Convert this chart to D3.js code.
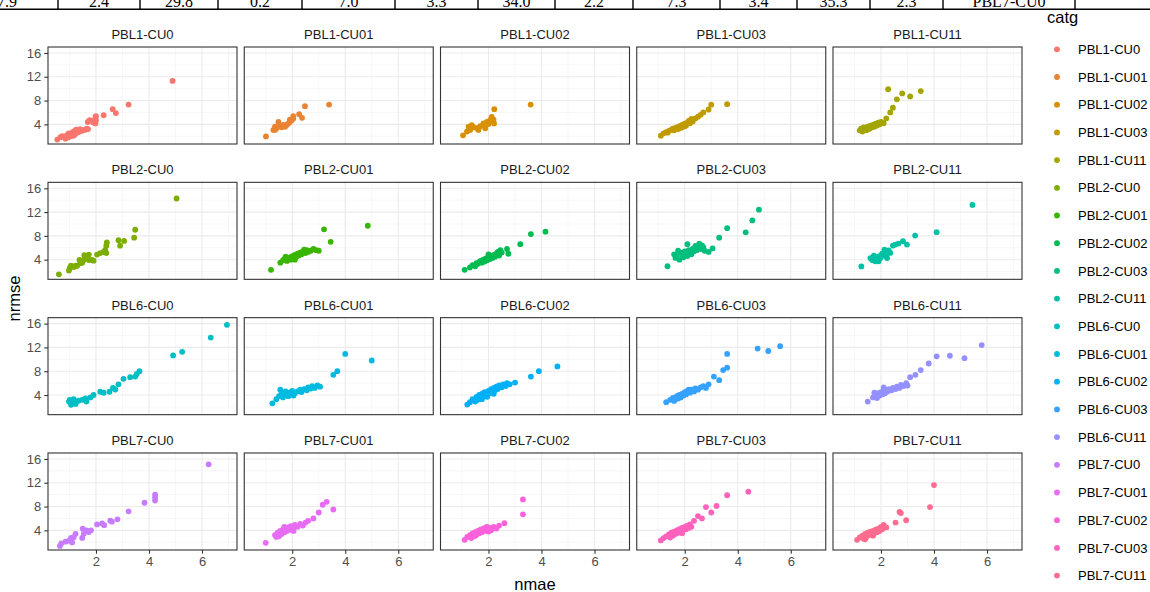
<!DOCTYPE html>
<html>
<head>
<meta charset="utf-8">
<script src="https://cdn.jsdelivr.net/npm/d3@7"></script>
<style>
  body { margin: 0; background: #fff; overflow: hidden; }
  svg { display: block; font-family: "Liberation Sans", Arial, sans-serif; }
</style>
</head>
<body>
<div class="graph-section"></div>
<script>
// cut-off table row above the chart
var tableCells = ["7.9", "2.4", "29.8", "0.2", "7.0", "3.3", "34.0", "2.2", "7.3", "3.4", "35.3", "2.3", "PBL7-CU0", ""];

var catg = ["PBL1-CU0", "PBL1-CU01", "PBL1-CU02", "PBL1-CU03", "PBL1-CU11",
            "PBL2-CU0", "PBL2-CU01", "PBL2-CU02", "PBL2-CU03", "PBL2-CU11",
            "PBL6-CU0", "PBL6-CU01", "PBL6-CU02", "PBL6-CU03", "PBL6-CU11",
            "PBL7-CU0", "PBL7-CU01", "PBL7-CU02", "PBL7-CU03", "PBL7-CU11"];

var xTicks = [2, 4, 6];
var yTicks = [4, 8, 12, 16];

// [nmae, nrmse]
var pbl1Cu0 = [[0.54,1.45],[0.66,1.85],[0.72,2.0],[0.79,1.98],[0.85,1.6],[0.9,2.1],[0.95,1.8],[0.98,2.5],[1.05,2.0],[1.1,2.6],
  [1.16,2.8],[1.2,2.3],[1.25,2.5],[1.29,3.07],[1.35,2.7],[1.4,3.2],[1.45,2.9],[1.54,3.07],[1.6,3.1],[1.7,3.2],
  [1.69,4.4],[1.76,4.7],[1.85,4.6],[1.9,4.3],[1.98,5.25],[2.0,4.7],[1.98,4.16],[2.0,5.4],[2.29,5.53],[2.63,6.56],
  [2.75,5.9],[3.23,7.33],[4.89,11.3],[1.15,2.1],[0.95,2.4],[1.25,3.1],[1.65,3.3]];

var pbl1Cu01 = [[1.01,1.98],[1.29,3.07],[1.35,3.6],[1.35,3.07],[1.41,3.35],[1.48,4.4],[1.54,3.7],[1.6,3.5],[1.66,3.9],[1.73,3.6],
  [1.79,3.9],[1.85,4.16],[1.91,4.4],[1.91,4.8],[1.98,4.7],[2.04,5.0],[2.04,5.4],[2.26,5.7],[2.37,5.1],[2.48,7.05],[3.39,7.33]];

var pbl1Cu02 = [[1.04,2.15],[1.19,2.8],[1.25,3.6],[1.31,3.07],[1.37,3.85],[1.44,3.5],[1.56,3.35],[1.62,3.07],[1.69,3.7],[1.81,4.16],
  [1.88,3.35],[1.94,4.4],[2.0,4.05],[2.06,4.7],[2.12,5.25],[2.19,4.8],[2.21,4.16],[2.22,6.56],[3.59,7.33]];

var pbl1Cu03 = [[1.1,2.1],[1.2,2.5],[1.3,2.7],[1.35,2.6],[1.4,2.9],[1.5,3.1],[1.55,3.3],[1.6,3.0],[1.65,3.4],[1.7,3.5],
  [1.75,3.2],[1.8,3.7],[1.85,3.4],[1.9,3.9],[1.95,3.6],[2.0,4.1],[2.0,3.7],[2.05,3.8],[2.1,4.3],[2.15,4.6],
  [2.2,4.2],[2.25,4.9],[2.3,4.5],[2.4,5.0],[2.5,5.3],[2.6,5.6],[2.7,6.0],[2.9,6.5],[3.0,7.3],[3.6,7.4]];

var pbl1Cu11 = [[1.2,3.0],[1.25,3.3],[1.3,2.8],[1.3,3.3],[1.35,3.5],[1.4,3.1],[1.45,3.4],[1.45,3.0],[1.5,3.6],[1.55,3.2],
  [1.6,3.8],[1.6,3.4],[1.65,3.5],[1.7,3.9],[1.75,3.6],[1.8,4.1],[1.85,3.8],[1.9,4.3],[1.95,4.0],[2.0,4.4],
  [2.1,4.2],[2.2,5.0],[2.35,6.0],[2.45,6.8],[2.27,9.9],[2.6,8.2],[2.8,9.2],[3.1,8.7],[3.5,9.6]];

var pbl2Cu0 = [[0.6,1.54],[0.98,2.18],[1.01,2.6],[1.06,2.98],[1.16,2.77],[1.23,2.98],[1.29,2.98],[1.38,3.95],[1.41,3.41],[1.48,3.5],
  [1.54,3.95],[1.56,4.75],[1.64,4.37],[1.73,4.86],[1.73,3.95],[1.85,3.95],[1.91,3.84],[2.04,4.86],[2.16,5.12],[2.29,5.29],
  [2.35,5.66],[2.39,6.36],[2.41,6.9],[2.39,5.12],[2.85,7.27],[2.91,6.36],[3.06,7.16],[3.44,7.7],[3.48,9.03],[5.04,14.28]];

var pbl2Cu01 = [[1.2,2.3],[1.55,3.5],[1.65,3.9],[1.7,4.1],[1.75,4.5],[1.8,3.8],[1.85,4.2],[1.9,4.4],[1.95,4.0],[2.0,4.6],
  [2.05,4.3],[2.1,4.8],[2.1,4.0],[2.15,4.5],[2.2,5.0],[2.25,4.7],[2.3,5.2],[2.35,4.9],[2.4,5.4],[2.45,5.7],
  [2.5,5.1],[2.55,5.6],[2.6,5.3],[2.7,5.5],[2.8,5.8],[2.9,5.6],[3.0,5.5],[3.2,9.1],[3.45,7.0],[4.85,9.7]];

var pbl2Cu02 = [[1.1,2.3],[1.3,2.7],[1.4,3.1],[1.5,2.9],[1.55,3.4],[1.6,3.3],[1.65,3.6],[1.7,3.8],[1.75,3.5],[1.8,4.0],
  [1.85,3.7],[1.9,4.2],[1.95,3.9],[2.0,4.4],[2.0,4.9],[2.05,4.1],[2.1,4.6],[2.15,4.3],[2.2,4.8],[2.25,4.5],
  [2.3,5.0],[2.35,5.3],[2.4,4.7],[2.45,5.6],[2.5,5.2],[2.7,5.8],[2.75,5.0],[3.2,6.6],[3.6,8.3],[4.15,8.7]];

var pbl2Cu03 = [[1.35,2.9],[1.6,4.9],[1.65,4.3],[1.7,4.6],[1.75,5.5],[1.8,4.0],[1.85,5.2],[1.9,4.8],[1.95,4.4],[2.0,5.4],
  [2.05,5.0],[2.1,4.6],[2.1,6.6],[2.15,5.6],[2.2,5.2],[2.25,4.9],[2.3,5.8],[2.35,5.4],[2.4,6.3],[2.45,5.6],
  [2.5,6.0],[2.55,6.7],[2.6,5.8],[2.65,6.4],[2.7,6.1],[2.75,5.5],[2.9,5.3],[3.05,5.9],[3.3,7.7],[3.6,9.3],
  [4.3,8.6],[4.55,10.6],[4.8,12.4]];

var pbl2Cu11 = [[1.26,2.87],[1.6,4.28],[1.66,4.0],[1.7,3.9],[1.73,4.68],[1.79,3.72],[1.85,4.11],[1.91,4.56],[1.91,3.72],[1.98,4.28],
  [2.04,5.0],[2.1,4.68],[2.13,5.69],[2.16,5.24],[2.2,4.68],[2.23,4.28],[2.29,5.58],[2.35,5.13],[2.45,6.37],[2.54,6.54],
  [2.66,6.7],[2.83,7.1],[2.98,6.54],[3.29,8.06],[4.1,8.62],[5.45,13.2]];

var pbl6Cu0 = [[0.98,2.9],[1.01,3.2],[1.06,2.36],[1.1,2.75],[1.16,3.3],[1.23,2.5],[1.29,2.9],[1.35,3.07],[1.48,3.2],[1.6,3.45],
  [1.64,2.9],[1.79,3.6],[1.91,4.0],[2.16,4.55],[2.29,4.38],[2.51,4.55],[2.64,5.2],[2.73,4.93],[2.85,5.8],[3.04,6.73],
  [3.29,7.0],[3.48,7.1],[3.54,7.55],[3.64,8.0],[4.91,10.66],[5.25,11.26],[6.33,13.66],[6.94,15.8]];

var pbl6Cu01 = [[1.25,2.6],[1.4,3.3],[1.5,3.8],[1.55,4.9],[1.6,4.3],[1.65,3.6],[1.7,4.0],[1.75,4.6],[1.8,4.2],[1.85,3.8],
  [1.9,4.4],[1.95,4.1],[2.0,4.7],[2.05,3.9],[2.1,4.3],[2.2,4.6],[2.3,4.9],[2.35,4.5],[2.45,5.0],[2.55,4.8],
  [2.6,5.3],[2.7,5.1],[2.75,5.5],[2.85,5.2],[2.95,5.6],[3.05,5.4],[3.55,7.4],[3.7,8.0],[4.0,10.9],[5.0,9.8]];

var pbl6Cu02 = [[1.2,2.4],[1.3,2.8],[1.4,3.3],[1.5,2.9],[1.55,3.7],[1.6,3.2],[1.65,4.0],[1.7,3.5],[1.75,4.2],[1.75,3.3],
  [1.8,3.8],[1.85,4.5],[1.9,4.1],[1.95,3.7],[2.0,4.7],[2.05,4.3],[2.1,5.0],[2.15,4.6],[2.2,5.2],[2.2,4.2],
  [2.25,4.8],[2.3,5.4],[2.35,5.0],[2.4,5.6],[2.5,5.3],[2.55,5.8],[2.65,5.5],[2.7,6.0],[2.8,5.8],[3.0,6.1],
  [3.6,7.1],[3.9,8.0],[4.6,8.8]];

var pbl6Cu03 = [[1.3,2.8],[1.45,3.2],[1.55,3.5],[1.6,3.0],[1.65,3.3],[1.7,3.8],[1.75,3.4],[1.8,4.0],[1.85,3.6],[1.9,4.2],
  [1.95,3.9],[2.0,4.5],[2.05,4.1],[2.1,4.7],[2.15,4.9],[2.2,4.4],[2.25,4.9],[2.35,4.6],[2.4,5.1],[2.5,4.9],
  [2.6,5.3],[2.7,5.5],[2.8,5.2],[2.9,5.8],[3.1,7.1],[3.3,6.5],[3.45,8.2],[3.6,8.6],[3.6,10.9],[4.75,11.8],
  [5.15,11.4],[5.6,12.2]];

var pbl6Cu11 = [[1.5,2.9],[1.7,3.6],[1.75,4.4],[1.8,4.0],[1.85,3.5],[1.9,4.3],[1.95,3.9],[2.0,4.5],[2.05,4.1],[2.1,4.7],
  [2.1,5.3],[2.15,4.3],[2.2,4.9],[2.25,4.6],[2.3,5.0],[2.4,4.8],[2.45,5.2],[2.55,5.0],[2.6,5.4],[2.7,5.2],
  [2.75,5.7],[2.85,5.5],[2.95,6.0],[3.0,5.6],[3.1,7.0],[3.3,7.4],[3.5,8.2],[3.8,9.3],[4.1,10.5],[4.6,10.6],
  [5.15,10.2],[5.8,12.4]];

var pbl7Cu0 = [[0.64,1.39],[0.69,1.8],[0.85,2.09],[0.98,2.26],[1.06,2.72],[1.1,1.97],[1.16,2.84],[1.23,3.42],[1.48,2.72],[1.5,4.29],
  [1.54,3.42],[1.64,4.0],[1.73,3.71],[1.81,4.0],[2.04,4.99],[2.23,5.16],[2.31,4.87],[2.54,5.62],[2.6,5.45],[2.81,5.86],
  [3.23,7.19],[3.83,8.64],[4.23,10.0],[4.23,9.5],[4.23,9.0],[6.25,15.1]];

var pbl7Cu01 = [[1.0,1.9],[1.35,3.2],[1.4,2.9],[1.45,3.6],[1.5,3.0],[1.55,3.9],[1.6,3.4],[1.65,4.1],[1.7,3.7],[1.7,4.6],
  [1.75,4.3],[1.8,3.9],[1.85,4.5],[1.9,4.1],[1.95,4.7],[2.0,4.3],[2.05,3.9],[2.1,4.9],[2.2,4.6],[2.3,5.1],
  [2.4,4.8],[2.5,5.3],[2.6,5.6],[2.8,6.0],[3.0,7.0],[3.15,8.3],[3.3,8.8],[3.55,7.5]];

var pbl7Cu02 = [[1.1,2.4],[1.2,2.9],[1.3,3.2],[1.35,2.7],[1.4,3.5],[1.45,3.0],[1.5,3.7],[1.5,3.1],[1.55,3.3],[1.6,3.9],
  [1.65,3.5],[1.7,4.1],[1.75,3.7],[1.8,4.3],[1.85,3.9],[1.9,4.5],[1.95,4.1],[1.95,4.6],[2.0,3.8],[2.05,4.4],
  [2.1,4.0],[2.2,4.6],[2.3,4.3],[2.4,4.8],[2.6,5.2],[3.3,6.7],[3.3,9.2]];

var pbl7Cu03 = [[1.1,2.3],[1.2,2.7],[1.3,3.0],[1.4,3.3],[1.45,2.8],[1.5,3.6],[1.55,3.1],[1.6,3.8],[1.65,3.4],[1.7,4.0],
  [1.75,3.6],[1.8,4.2],[1.85,3.8],[1.9,4.4],[1.9,3.5],[1.95,4.0],[2.0,4.6],[2.05,4.2],[2.1,4.8],[2.15,4.4],
  [2.2,5.0],[2.25,4.6],[2.35,5.6],[2.5,6.4],[2.65,6.0],[2.8,7.9],[3.0,7.0],[3.2,8.1],[3.6,9.9],[4.4,10.5]];

var pbl7Cu11 = [[1.1,2.4],[1.2,2.8],[1.3,3.1],[1.35,2.6],[1.4,3.4],[1.4,2.5],[1.45,2.9],[1.5,3.6],[1.55,3.2],[1.6,3.8],
  [1.65,3.4],[1.7,3.9],[1.7,3.1],[1.75,3.5],[1.8,4.1],[1.85,3.7],[1.9,4.3],[1.95,3.9],[2.0,4.6],[2.05,4.2],
  [2.1,4.9],[2.2,4.5],[2.55,5.3],[2.7,7.1],[2.75,6.9],[2.95,5.7],[3.85,7.9],[4.0,11.6]];

var series = [pbl1Cu0, pbl1Cu01, pbl1Cu02, pbl1Cu03, pbl1Cu11,
              pbl2Cu0, pbl2Cu01, pbl2Cu02, pbl2Cu03, pbl2Cu11,
              pbl6Cu0, pbl6Cu01, pbl6Cu02, pbl6Cu03, pbl6Cu11,
              pbl7Cu0, pbl7Cu01, pbl7Cu02, pbl7Cu03, pbl7Cu11];

// ggplot default hue palette for 20 levels
var hues = ["#F8766D", "#EA8331", "#D89000", "#C09B00", "#A3A500", "#7CAE00", "#39B600", "#00BB4E", "#00BF7D", "#00C1A3",
            "#00BFC4", "#00BAE0", "#00B0F6", "#35A2FF", "#9590FF", "#C77CFF", "#E76BF3", "#FA62DB", "#FF62BC", "#FF6C90"];

var W = 1150, H = 592;
var panelW = 189, panelH = 97,
    left0 = 48, top0 = 47,
    colStep = 196.25, rowStep = 135.33;

var color = d3.scaleOrdinal().domain(catg).range(hues);

var x = d3.scaleLinear().domain([0.19, 7.32]).range([0, panelW]);
var y = d3.scaleLinear().domain([0.7, 17.0]).range([panelH, 0]);

var svg = d3.select(".graph-section").append("svg")
    .attr("width", W)
    .attr("height", H);

// table fragment at the very top
var tableEdges = [-44, 58, 140, 218, 302, 395, 478, 555, 633, 720, 797, 870, 943, 1075, 1150];
var table = svg.append("g").attr("class", "table-row");

table.append("line")
    .attr("x1", 0).attr("x2", W)
    .attr("y1", 9.3).attr("y2", 9.3)
    .attr("stroke", "#000")
    .attr("stroke-width", 1.4);

table.selectAll(".sep")
    .data(tableEdges.slice(1, -1))
  .enter().append("line")
    .attr("class", "sep")
    .attr("x1", function(d) { return d; })
    .attr("x2", function(d) { return d; })
    .attr("y1", 0).attr("y2", 9.3)
    .attr("stroke", "#000")
    .attr("stroke-width", 1.4);

table.selectAll(".cell")
    .data(tableCells)
  .enter().append("text")
    .attr("class", "cell")
    .attr("x", function(d, i) { return (tableEdges[i] + tableEdges[i + 1]) / 2; })
    .attr("y", 6.8)
    .attr("text-anchor", "middle")
    .style("font-family", "'Liberation Serif', 'Times New Roman', serif")
    .style("font-size", "16px")
    .attr("fill", "#000")
    .text(function(d) { return d; });

// facets
var xMinor = [1, 3, 5, 7], yMinor = [2, 6, 10, 14];

catg.forEach(function(name, i) {
  var col = i % 5, row = Math.floor(i / 5);
  var px = left0 + col * colStep, py = top0 + row * rowStep;

  var g = svg.append("g")
      .attr("class", "panel")
      .attr("transform", "translate(" + px + "," + py + ")");

  g.append("rect")
      .attr("width", panelW)
      .attr("height", panelH)
      .attr("fill", "#fff");

  g.selectAll(".minor-x")
      .data(xMinor)
    .enter().append("line")
      .attr("x1", function(d) { return x(d); })
      .attr("x2", function(d) { return x(d); })
      .attr("y1", 0).attr("y2", panelH)
      .attr("stroke", "#F2F2F2")
      .attr("stroke-width", 0.6);

  g.selectAll(".minor-y")
      .data(yMinor)
    .enter().append("line")
      .attr("y1", function(d) { return y(d); })
      .attr("y2", function(d) { return y(d); })
      .attr("x1", 0).attr("x2", panelW)
      .attr("stroke", "#F2F2F2")
      .attr("stroke-width", 0.6);

  g.selectAll(".major-x")
      .data(xTicks)
    .enter().append("line")
      .attr("x1", function(d) { return x(d); })
      .attr("x2", function(d) { return x(d); })
      .attr("y1", 0).attr("y2", panelH)
      .attr("stroke", "#EBEBEB")
      .attr("stroke-width", 1.1);

  g.selectAll(".major-y")
      .data(yTicks)
    .enter().append("line")
      .attr("y1", function(d) { return y(d); })
      .attr("y2", function(d) { return y(d); })
      .attr("x1", 0).attr("x2", panelW)
      .attr("stroke", "#EBEBEB")
      .attr("stroke-width", 1.1);

  g.selectAll("circle")
      .data(series[i])
    .enter().append("circle")
      .attr("cx", function(d) { return x(d[0]); })
      .attr("cy", function(d) { return y(d[1]); })
      .attr("r", 2.9)
      .attr("fill", color(name));

  g.append("rect")
      .attr("width", panelW)
      .attr("height", panelH)
      .attr("fill", "none")
      .attr("stroke", "#333333")
      .attr("stroke-width", 1.1);

  // strip title
  g.append("text")
      .attr("x", panelW / 2)
      .attr("y", -8)
      .attr("text-anchor", "middle")
      .style("font-size", "13px")
      .attr("fill", "#1A1A1A")
      .text(name);

  if (col === 0) {
    var ay = g.append("g")
        .attr("class", "axis axis--y")
        .call(d3.axisLeft(y).tickValues(yTicks).tickSize(3.7).tickPadding(3));
    ay.select(".domain").remove();
  }
  if (row === 3) {
    var ax = g.append("g")
        .attr("class", "axis axis--x")
        .attr("transform", "translate(0," + panelH + ")")
        .call(d3.axisBottom(x).tickValues(xTicks).tickSize(3.7).tickPadding(3));
    ax.select(".domain").remove();
  }
});

svg.selectAll(".axis line").attr("stroke", "#333333").attr("stroke-width", 1.1);
svg.selectAll(".axis text")
    .attr("fill", "#4D4D4D")
    .style("font-size", "13px")
    .style("font-family", "'Liberation Sans', Arial, sans-serif");

// axis titles
svg.append("text")
    .attr("x", left0 + (4 * colStep + panelW) / 2)
    .attr("y", 590)
    .attr("text-anchor", "middle")
    .style("font-size", "16.5px")
    .attr("fill", "#000")
    .text("nmae");

svg.append("text")
    .attr("transform", "translate(20," + (top0 + (3 * rowStep + panelH) / 2) + ") rotate(-90)")
    .attr("text-anchor", "middle")
    .style("font-size", "16.5px")
    .attr("fill", "#000")
    .text("nrmse");

// legend
var legend = svg.append("g").attr("class", "legend");

legend.append("text")
    .attr("x", 1047)
    .attr("y", 23)
    .style("font-size", "16.5px")
    .attr("fill", "#000")
    .text("catg");

var item = legend.selectAll(".item")
    .data(catg)
  .enter().append("g")
    .attr("class", "item")
    .attr("transform", function(d, i) { return "translate(1057," + (49.3 + i * 27.7) + ")"; });

item.append("circle")
    .attr("r", 2.9)
    .attr("fill", function(d) { return color(d); });

item.append("text")
    .attr("x", 21)
    .attr("y", 4.6)
    .style("font-size", "13px")
    .attr("fill", "#000")
    .text(function(d) { return d; });
</script>
</body>
</html>
